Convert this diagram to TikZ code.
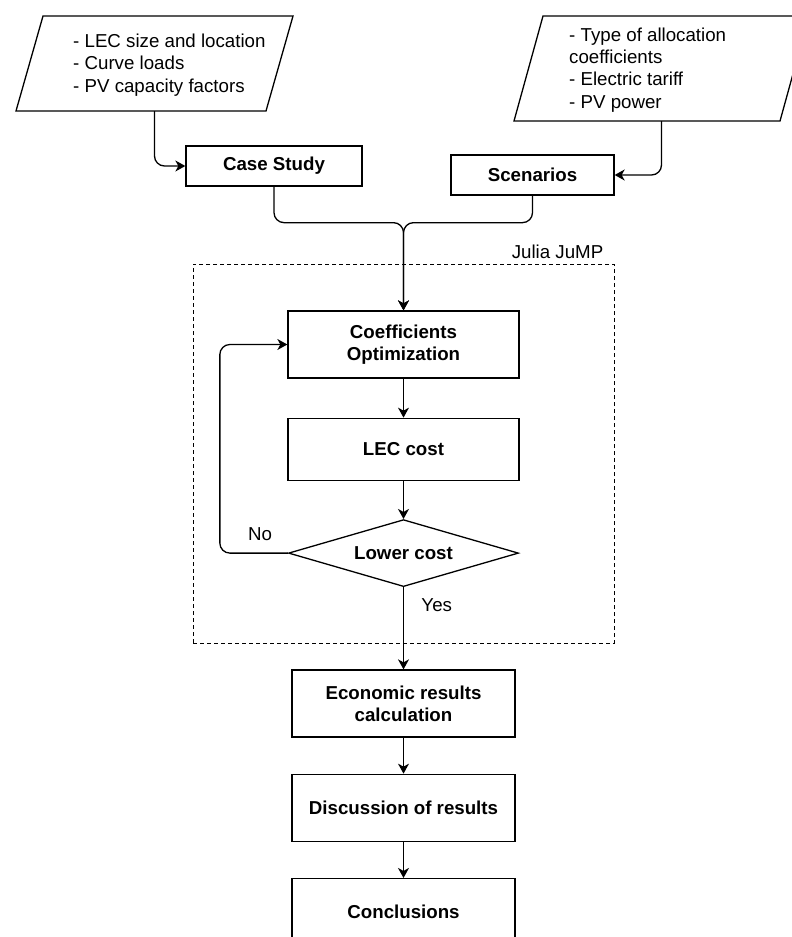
\documentclass[tikz,border=0pt]{standalone}
\usepackage{fontspec}
\setmainfont{Liberation Sans}
\usetikzlibrary{shapes.geometric,arrows.meta,positioning,calc}
\newcommand{\diagfont}{\fontsize{18.7}{22.2}\selectfont}
\tikzset{
    process/.style={draw, line width=1.3pt, fill=white, font=\diagfont\bfseries,
    align=center, minimum width=231pt, minimum height=67pt, inner sep=2pt},
    datain/.style={draw, line width=1.3pt},
    decide/.style={draw, diamond, aspect=3.4, line width=1.3pt, fill=white,
    font=\diagfont\bfseries, minimum width=230pt, minimum height=67pt, inner sep=0pt},
    listtext/.style={align=left, anchor=west, inner sep=0pt, font=\diagfont},
    group/.style={draw, line width=0.9pt, dash pattern=on 4pt off 3pt},
    link/.style={line width=1.3pt, rounded corners=10pt,
    -{Stealth[length=10pt,width=11pt,inset=3pt]}}
}

\begin{document}
\begin{tikzpicture}[x=1pt, y=-1pt, font=\diagfont]
    \useasboundingbox (0,0) rectangle (792,937);

    \node [group, minimum width=421pt, minimum height=379pt] (jump) at (403.5,453.5) {};
    \node [anchor=south east, inner sep=2pt] (jumplabel) at ([xshift=-9pt,yshift=3pt]jump.north east) {Julia JuMP};

    \draw [datain] (16,111) -- (43,16) -- (293,16) -- (266,111) -- cycle;
    \coordinate (inputs) at (154.5,111);
    \node [listtext] (inputstext) at (73,65) {- LEC size and location\\- Curve loads\\- PV capacity factors};
    \draw [datain] (514,121) -- (543,16) -- (809,16) -- (780,121) -- cycle;
    \coordinate (params) at (661.5,121);
    \node [listtext] (paramstext) at (569,70) {- Type of allocation\\coefficients\\- Electric tariff\\- PV power};

    \node [process, minimum width=176pt, minimum height=40pt] (case) at (274,166) {Case Study};
    \node [process, minimum width=163pt, minimum height=40pt] (scen) at (532.5,175) {Scenarios};

    \node [process] (coeff) at (403.5,344.5) {Coefficients\\Optimization};
    \node [process, minimum height=62pt, below=39pt of coeff] (cost) {LEC cost};
    \node [decide, below=38pt of cost] (lower) {Lower cost};

    \node [process, minimum width=223pt] (econ) at (403.5,703.5) {Economic results\\calculation};
    \node [process, minimum width=223pt, below=36pt of econ] (discuss) {Discussion of results};
    \node [process, minimum width=223pt, below=36pt of discuss] (concl) {Conclusions};

    \draw [link] (inputs) |- (case.west);
    \draw [link] (params) |- (scen.east);
    \draw [link] (case.south) -- ++(0,36) -| (coeff.north);
    \draw [link] (scen.south) -- ++(0,27) -| (coeff.north);
    \draw [link] (coeff) -- (cost);
    \draw [link] (cost) -- (lower);
    \draw [link] (lower.west) -- node [above=8pt, pos=0.41] {No} ++(-68,0) |- (coeff.west);
    \draw [link] (lower) -- node [right=14pt, pos=0.22] {Yes} (econ);
    \draw [link] (econ) -- (discuss);
    \draw [link] (discuss) -- (concl);
\end{tikzpicture}
\end{document}
